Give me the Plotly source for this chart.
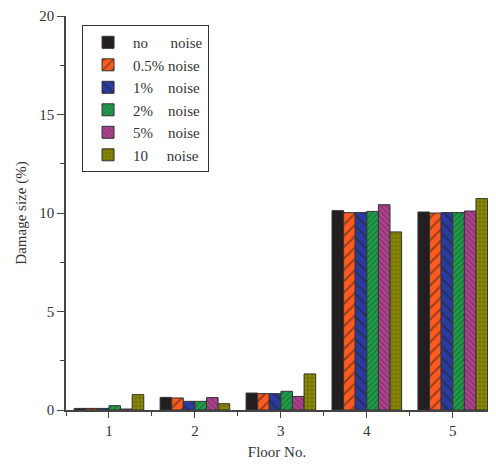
import plotly.graph_objects as go

floors = [1, 2, 3, 4, 5]
series_names = ["no\u00a0\u00a0\u00a0\u00a0\u00a0\u00a0noise", "0.5%\u00a0noise", "1%\u00a0\u00a0\u00a0\u00a0noise",
                "2%\u00a0\u00a0\u00a0\u00a0noise", "5%\u00a0\u00a0\u00a0\u00a0noise", "10\u00a0\u00a0\u00a0\u00a0\u00a0noise"]
no_noise = [0.08, 0.64, 0.86, 10.12, 10.05]
noise_05 = [0.08, 0.61, 0.83, 10.02, 10.0]
noise_1 = [0.08, 0.44, 0.83, 10.03, 10.02]
noise_2 = [0.22, 0.44, 0.95, 10.08, 10.02]
noise_5 = [0.05, 0.63, 0.69, 10.42, 10.1]
noise_10 = [0.78, 0.32, 1.83, 9.04, 10.73]

values = [no_noise, noise_05, noise_1, noise_2, noise_5, noise_10]
colors = ["#231f20", "#ff5a1f", "#2b3a9e", "#1f9e4a", "#b0418f", "#8c8c00"]
patterns = ["", "/", "\\", "/", "\\", "+"]
psizes = [8, 8, 8, 4, 4, 4]

fig = go.Figure()
for name, vals, col, pat, ps in zip(series_names, values, colors, patterns, psizes):
    fig.add_trace(go.Bar(
        x=floors, y=vals, name=name,
        marker=dict(color=col, line=dict(color="#333333", width=1),
                    pattern=dict(shape=pat, fgcolor="#222222", size=ps, solidity=0.25,
                                 fillmode="overlay")),
    ))

fig.update_layout(
    width=480, height=452,
    margin=dict(l=58, r=0, t=8, b=50),
    paper_bgcolor="white", plot_bgcolor="white",
    barmode="group", bargap=0.19, bargroupgap=0,
    font=dict(family="Liberation Serif", size=15, color="#333333"),
    showlegend=True,
    legend=dict(x=0.038, y=0.977, xanchor="left", yanchor="top",
                bordercolor="#333333", borderwidth=1, bgcolor="white",
                font=dict(size=15, family="Liberation Serif", color="#333333"),
                itemwidth=40, tracegroupgap=0),
    xaxis=dict(range=[0.5, 5.41], tickvals=floors, ticktext=[str(f) for f in floors],
               automargin=False,
               showline=True, linecolor="#444444", linewidth=1.5, ticks="outside",
               ticklen=6, tickcolor="#444444", showgrid=False, zeroline=False,
               minor=dict(tickvals=[0.5, 1.5, 2.5, 3.5, 4.5], ticks="outside", ticklen=4,
                          tickcolor="#444444"),
               title=dict(text="Floor No.", font=dict(size=15), standoff=12),
               tickfont=dict(size=15)),
    yaxis=dict(range=[0, 20], tickvals=[0, 5, 10, 15, 20],
               automargin=False,
               showline=True, linecolor="#444444", linewidth=1.5, ticks="outside",
               ticklen=7, tickcolor="#444444", showgrid=False, zeroline=False,
               minor=dict(tickvals=[2.5, 7.5, 12.5, 17.5], ticks="outside", ticklen=4,
                          tickcolor="#444444"),
               title=dict(text="Damage size (%)", font=dict(size=15), standoff=9),
               tickfont=dict(size=15)),
)

fig.write_html("out.html")
